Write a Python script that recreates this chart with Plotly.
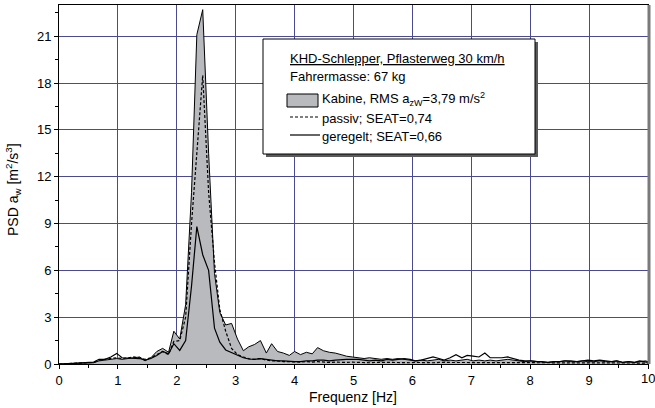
import plotly.graph_objects as go

# ---- data ----
freq = [0.00, 0.10, 0.20, 0.29, 0.39, 0.49, 0.59, 0.68, 0.78, 0.88, 0.98, 1.07, 1.17, 1.27, 1.37,
        1.46, 1.56, 1.66, 1.76, 1.86, 1.95, 2.05, 2.15, 2.25, 2.34, 2.44, 2.54, 2.64, 2.73, 2.83,
        2.93, 3.03, 3.13, 3.22, 3.32, 3.42, 3.52, 3.61, 3.71, 3.81, 3.91, 4.00, 4.10, 4.20, 4.30,
        4.39, 4.49, 4.59, 4.69, 4.79, 4.88, 4.98, 5.08, 5.18, 5.27, 5.37, 5.47, 5.57, 5.66, 5.76,
        5.86, 5.96, 6.05, 6.15, 6.25, 6.35, 6.45, 6.54, 6.64, 6.74, 6.84, 6.93, 7.03, 7.13, 7.23,
        7.32, 7.42, 7.52, 7.62, 7.71, 7.81, 7.91, 8.01, 8.11, 8.20, 8.30, 8.40, 8.50, 8.59, 8.69,
        8.79, 8.89, 8.98, 9.08, 9.18, 9.28, 9.38, 9.47, 9.57, 9.67, 9.77, 9.86, 9.96, 10.00]

kabine = [0.00, 0.02, 0.03, 0.04, 0.05, 0.06, 0.08, 0.20, 0.25, 0.30, 0.35, 0.30, 0.35, 0.40, 0.45,
          0.20, 0.40, 0.80, 1.00, 0.75, 2.10, 1.60, 3.80, 11.0, 21.1, 22.7, 13.5, 5.80, 3.30, 2.50,
          2.60, 1.60, 0.85, 1.10, 1.25, 1.50, 0.70, 1.30, 0.80, 0.70, 0.55, 0.80, 0.60, 0.75, 0.65,
          1.05, 0.85, 0.75, 0.70, 0.60, 0.50, 0.45, 0.40, 0.35, 0.40, 0.35, 0.30, 0.35, 0.30, 0.35,
          0.30, 0.25, 0.20, 0.25, 0.20, 0.25, 0.30, 0.20, 0.25, 0.20, 0.25, 0.30, 0.20, 0.25, 0.20,
          0.25, 0.20, 0.25, 0.30, 0.25, 0.20, 0.15, 0.20, 0.15, 0.15, 0.10, 0.15, 0.15, 0.20, 0.15,
          0.15, 0.20, 0.15, 0.15, 0.20, 0.15, 0.15, 0.20, 0.10, 0.15, 0.10, 0.15, 0.20, 0.15]

passiv = [0.00, 0.02, 0.03, 0.04, 0.05, 0.06, 0.10, 0.25, 0.30, 0.35, 0.40, 0.35, 0.40, 0.45, 0.40,
          0.30, 0.40, 0.60, 0.80, 0.60, 1.45, 1.50, 3.00, 9.00, 13.5, 18.5, 11.0, 6.50, 3.50, 2.10,
          1.00, 0.60, 0.45, 0.35, 0.30, 0.35, 0.25, 0.20, 0.20, 0.15, 0.15, 0.12, 0.12, 0.15, 0.12,
          0.15, 0.12, 0.10, 0.12, 0.10, 0.10, 0.12, 0.10, 0.10, 0.08, 0.10, 0.08, 0.10, 0.10, 0.08,
          0.10, 0.08, 0.10, 0.08, 0.10, 0.08, 0.10, 0.10, 0.08, 0.10, 0.08, 0.10, 0.08, 0.10, 0.08,
          0.10, 0.08, 0.10, 0.08, 0.10, 0.08, 0.08, 0.10, 0.08, 0.08, 0.06, 0.08, 0.08, 0.06, 0.08,
          0.06, 0.08, 0.06, 0.08, 0.06, 0.08, 0.06, 0.08, 0.06, 0.06, 0.08, 0.06, 0.06, 0.06]

geregelt = [0.00, 0.02, 0.03, 0.04, 0.05, 0.06, 0.12, 0.30, 0.30, 0.45, 0.68, 0.40, 0.38, 0.40, 0.35,
            0.25, 0.35, 0.55, 0.80, 0.66, 1.30, 0.87, 1.50, 5.00, 8.80, 7.00, 6.00, 2.30, 1.40, 0.90,
            0.75, 0.60, 0.40, 0.32, 0.30, 0.35, 0.30, 0.25, 0.20, 0.20, 0.15, 0.15, 0.15, 0.20, 0.20,
            0.25, 0.25, 0.20, 0.25, 0.30, 0.30, 0.30, 0.30, 0.25, 0.20, 0.25, 0.20, 0.30, 0.25, 0.30,
            0.35, 0.30, 0.20, 0.25, 0.35, 0.45, 0.35, 0.25, 0.40, 0.60, 0.40, 0.55, 0.50, 0.45, 0.70,
            0.40, 0.40, 0.40, 0.45, 0.35, 0.25, 0.20, 0.20, 0.15, 0.15, 0.10, 0.15, 0.15, 0.20, 0.20,
            0.15, 0.20, 0.25, 0.20, 0.25, 0.20, 0.15, 0.20, 0.10, 0.15, 0.10, 0.20, 0.15, 0.10]

legend_title = "KHD-Schlepper, Pflasterweg 30 km/h"
legend_sub = "Fahrermasse: 67 kg"
label_kabine = "Kabine, RMS a<sub>zW</sub>=3,79 m/s<sup>2</sup>"
label_passiv = "passiv; SEAT=0,74"
label_geregelt = "geregelt; SEAT=0,66"
x_title = "Frequenz [Hz]"
y_title = "PSD a<sub>w</sub> [m<sup>2</sup>/s<sup>3</sup>]"

x_ticks = [0, 1, 2, 3, 4, 5, 6, 7, 8, 9, 10]
y_ticks = [0, 3, 6, 9, 12, 15, 18, 21]

# ---- figure ----
FONT = "Liberation Sans, Arial, sans-serif"
W, H = 655, 408
L, R, T, B = 59, 648, 5, 364


def px(xp):
    return (xp - L) / (R - L)


def py(yp):
    return (B - yp) / (B - T)


fig = go.Figure()
fig.add_trace(go.Scatter(x=freq, y=kabine, mode="lines", fill="tozeroy",
                         fillcolor="#b9babe", line=dict(color="black", width=1),
                         showlegend=False))
fig.add_trace(go.Scatter(x=freq, y=passiv, mode="lines",
                         line=dict(color="black", width=1.2, dash="3px,2px"),
                         showlegend=False))
fig.add_trace(go.Scatter(x=freq, y=geregelt, mode="lines",
                         line=dict(color="black", width=1.2), showlegend=False))

grid = "#4a4a92"
fig.update_xaxes(range=[0, 10], tickvals=x_ticks, ticktext=[str(v) for v in x_ticks],
                 showgrid=True, gridcolor=grid, gridwidth=1,
                 showline=True, linecolor="black", linewidth=1, mirror=True,
                 ticks="outside", ticklen=4, tickcolor="black",
                 minor=dict(dtick=0.5, ticks="outside", ticklen=3, tickcolor="black", showgrid=False),
                 zeroline=False, automargin=False,
                 tickfont=dict(family=FONT, size=13, color="black"))
fig.update_yaxes(range=[0, 23], tickvals=y_ticks, ticktext=[str(v) for v in y_ticks],
                 showgrid=True, gridcolor=grid, gridwidth=1,
                 showline=True, linecolor="black", linewidth=1, mirror=True,
                 ticks="outside", ticklen=4, tickcolor="black",
                 minor=dict(dtick=1.5, ticks="outside", ticklen=3, tickcolor="black", showgrid=False),
                 zeroline=False, automargin=False,
                 tickfont=dict(family=FONT, size=13, color="black"))

shapes = []
# right frame shading
shapes.append(dict(type="line", xref="paper", yref="paper", x0=px(649), x1=px(649), y0=0, y1=1,
                   line=dict(color="#7a7a7a", width=3)))
# legend box shadow + box
shapes.append(dict(type="rect", xref="paper", yref="paper", x0=px(266), x1=px(538),
                   y0=py(157), y1=py(42), fillcolor="#5a5a5a", line=dict(width=0)))
shapes.append(dict(type="rect", xref="paper", yref="paper", x0=px(263), x1=px(535),
                   y0=py(154), y1=py(39), fillcolor="white", line=dict(color="black", width=1)))
# legend samples
shapes.append(dict(type="rect", xref="paper", yref="paper", x0=px(287), x1=px(318),
                   y0=py(107), y1=py(94), fillcolor="#b9babe", line=dict(color="black", width=1)))
shapes.append(dict(type="line", xref="paper", yref="paper", x0=px(290), x1=px(320),
                   y0=py(117), y1=py(117), line=dict(color="black", width=1.2, dash="3px,2px")))
shapes.append(dict(type="line", xref="paper", yref="paper", x0=px(290), x1=px(320),
                   y0=py(135), y1=py(135), line=dict(color="black", width=1.2)))

annos = []
def txt(text, xp, yp, size=13, xanchor="left", angle=0):
    annos.append(dict(text=text, xref="paper", yref="paper", x=px(xp), y=py(yp),
                      xanchor=xanchor, yanchor="middle", showarrow=False, textangle=angle,
                      font=dict(family=FONT, size=size, color="black")))

txt("<u>" + legend_title + "</u>", 288, 59)
txt(legend_sub, 288, 77)
txt(label_kabine, 320, 99)
txt(label_passiv, 320, 118)
txt(label_geregelt, 320, 136)
txt(x_title, 353, 397, size=14, xanchor="center")
txt(y_title, 13, 190, size=14, xanchor="center", angle=-90)
# last x tick label (hidden by plotly because it touches the page edge)
annos.append(dict(text=str(x_ticks[-1]), xref="x", yref="paper", x=x_ticks[-1], y=py(378),
                  xanchor="center", yanchor="middle", showarrow=False,
                  font=dict(family=FONT, size=13, color="black")))

fig.update_layout(width=W, height=H, margin=dict(l=L, r=W - R, t=T, b=H - B),
                  plot_bgcolor="white", paper_bgcolor="white",
                  shapes=shapes, annotations=annos, showlegend=False)

fig.write_html("out.html", config={"displayModeBar": False},
               post_script="document.body.style.margin='0px';document.body.style.overflow='hidden';")
